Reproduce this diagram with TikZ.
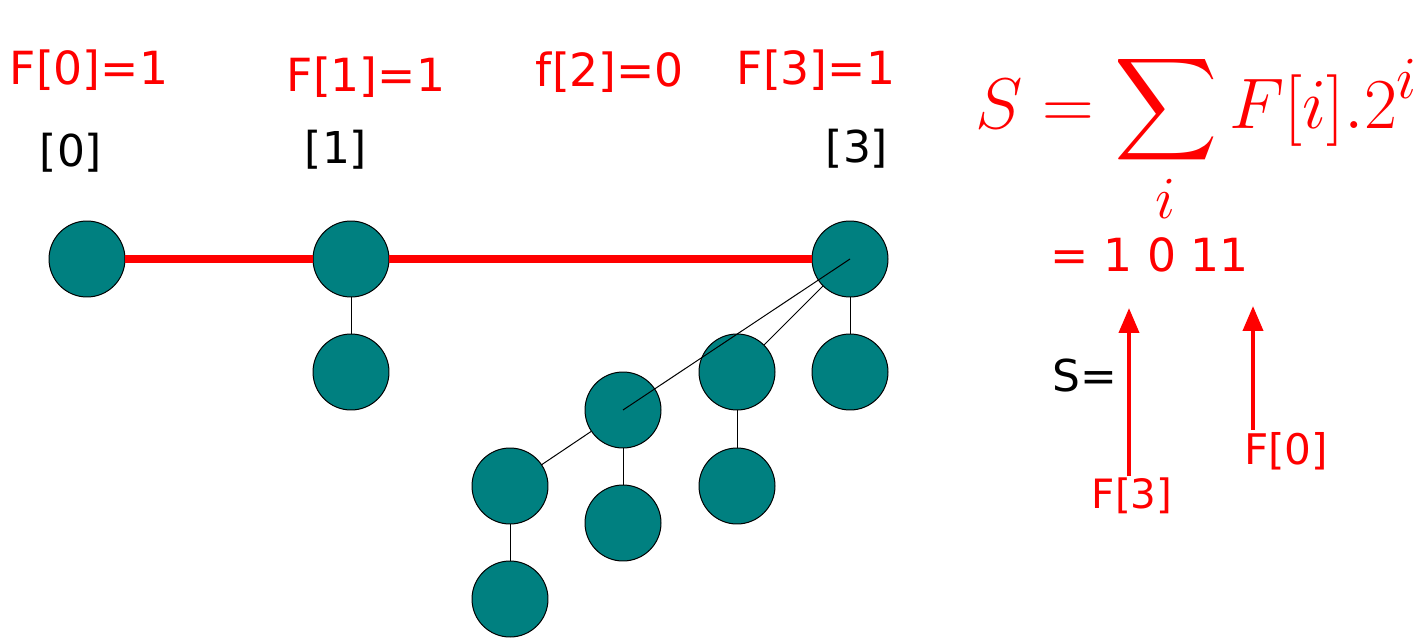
\documentclass[tikz,border=0pt]{standalone}
\usepackage{amsmath}
\usepackage{fontspec}
\newfontfamily\dejavu{DejaVu Sans}
\usepackage{tikz}
\usetikzlibrary{arrows.meta}
\usepackage{xcolor}
\definecolor{verde}{HTML}{008080}

\tikzset{
    no/.style={circle, draw=black, fill=verde, line width=0.02cm, minimum size=1.52cm, inner sep=0pt},
    aresta/.style={black, line width=0.02cm},
    ligacao/.style={red, line width=0.15cm},
    rotulo/.style={font=\dejavu\fontsize{25}{30}\selectfont, inner sep=1pt},
    mao/.style={text=red, font=\dejavu\fontsize{26}{30}\selectfont, inner sep=1pt},
    seta/.style={red, line width=0.08cm, -{Triangle[length=0.5cm,width=0.4cm]}}
}

\begin{document}
\begin{tikzpicture}[x=0.02cm, y=-0.02cm]
    \useasboundingbox (0,0) rectangle (1427,639);

    % Raízes
    \node[no] (r0) at (87,259) {};
    \node[no] (r1) at (351,259) {};
    \node[no] (r3) at (850,259) {};

    % Filhos
    \node[no] (r1a) at (351,372) {};
    \node[no] (r3a) at (623,410) {};
    \node[no] (r3b) at (737,372) {};
    \node[no] (r3c) at (850,372) {};
    \node[no] (r3aa) at (510,486) {};
    \node[no] (r3ab) at (623,523) {};
    \node[no] (r3ba) at (737,486) {};
    \node[no] (r3aaa) at (510,599) {};

    % Lista de raízes
    \draw[ligacao] (r0) -- (r1);
    \draw[ligacao] (r1) -- (r3);

    % Arestas
    \draw[aresta] (r1) -- (r1a);
    \draw[aresta] (r3) -- (r3b);
    \draw[aresta] (r3) -- (r3c);
    \draw[aresta] (r3b) -- (r3ba);
    \draw[aresta] (r3a) -- (r3aa);
    \draw[aresta] (r3a) -- (r3ab);
    \draw[aresta] (r3aa) -- (r3aaa);
    \draw[aresta] (r3.center) -- (r3a.center);

    % Ordens
    \node[rotulo] (o0) at (71,153) {[0]};
    \node[rotulo] (o1) at (336,150) {[1]};
    \node[rotulo] (o3) at (857,149) {[3]};
    \node[rotulo] (s) at (1085,376) {S=};

    % Anotações
    \node[mao] (f0) at (89,70) {F[0]=1};
    \node[mao] (f1) at (366,77) {F[1]=1};
    \node[mao] (f2) at (610,72) {f[2]=0};
    \node[mao] (f3) at (816,70) {F[3]=1};
    \node[text=red, anchor=base west, inner sep=0pt] (soma) at (975,128)
        {\scalebox{1.64}{\fontsize{24.88}{28}\selectfont$S = \displaystyle\sum_{i} F[i].2^{i}$}};
    \node[mao] (bits) at (1150,255) {= 1 0 11};

    % Setas
    \node[mao, font=\dejavu\fontsize{23}{28}\selectfont] (g3) at (1132,496) {F[3]};
    \node[mao, font=\dejavu\fontsize{24}{28}\selectfont] (g0) at (1286,451) {F[0]};
    \coordinate (p3) at (1129,308);
    \coordinate (p0) at (1253,306);
    \draw[seta] (g3.north -| p3) -- (p3);
    \draw[seta] (g0.north -| p0) -- (p0);
\end{tikzpicture}
\end{document}
